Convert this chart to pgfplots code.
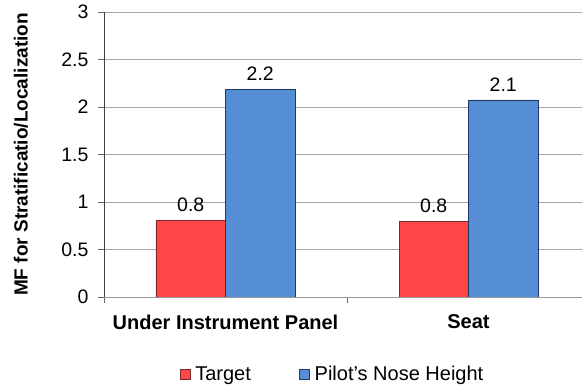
\documentclass[border=0pt]{standalone}
\usepackage{pgfplots}
\pgfplotsset{compat=1.18}
\usepackage{fontspec}
\setmainfont{Liberation Sans}
\definecolor{tgt}{HTML}{FF4545}
\definecolor{tgtb}{HTML}{7A2A2A}
\definecolor{pil}{HTML}{558ED5}
\definecolor{pilb}{HTML}{1F3864}
\begin{document}
\begin{tikzpicture}
\begin{axis}[
    scale only axis,
    width=486pt, height=285pt,
    ybar=0pt, bar width=0.286,
    xmin=-0.5, xmax=1.5,
    ymin=0, ymax=3,
    ytick={0,0.5,1,1.5,2,2.5,3},
    xtick={0,1},
    xticklabels={Under Instrument Panel, Seat},
    minor xtick={-0.5,0.5,1.5},
    major x tick style={draw=none},
    every tick/.style={draw=gray!80!black, line width=0.8pt},
    minor tick length=6pt,
    major tick length=6pt,
    tick align=outside,
    tick pos=left,
    axis lines*=left,
    x axis line style={draw=gray!80, line width=0.9pt},
    y axis line style={draw=black!75, line width=0.9pt},
    ymajorgrids,
    grid style={draw=gray!70, line width=0.8pt},
    /pgf/number format/assume math mode=true,
    yticklabel style={font=\fontsize{19.5}{21}\selectfont, xshift=-6pt},
    xticklabel style={font=\fontsize{20}{22}\selectfont\bfseries, yshift=-8pt},
    ylabel={MF for Stratificatio/Localization},
    ylabel style={font=\fontsize{19}{21}\selectfont\bfseries,
        at={(axis description cs:-0.171,0.5)}, anchor=center},
    point meta=explicit symbolic,
    nodes near coords,
    nodes near coords style={font=\fontsize{19.5}{21}\selectfont, yshift=5pt},
    legend style={at={(axis description cs:0.470,-0.27)}, anchor=center, draw=none,
        font=\fontsize{20}{22}\selectfont,
        legend columns=2,
        /tikz/every even column/.append style={column sep=46pt}},
    legend image code/.code={\draw[#1] (0pt,-5pt) rectangle (10pt,5pt); \path (13pt,0pt);},
]
\addplot[fill=tgt, draw=tgtb, line width=0.8pt] coordinates {(0,0.803) [0.8] (1,0.793) [0.8]};
\addplot[fill=pil, draw=pilb, line width=0.8pt] coordinates {(0,2.186) [2.2] (1,2.074) [2.1]};
\legend{Target, Pilot's Nose Height}
\end{axis}
\pgfresetboundingbox
\path (-104pt,-88pt) rectangle (478pt,297pt);
\end{tikzpicture}
\end{document}
